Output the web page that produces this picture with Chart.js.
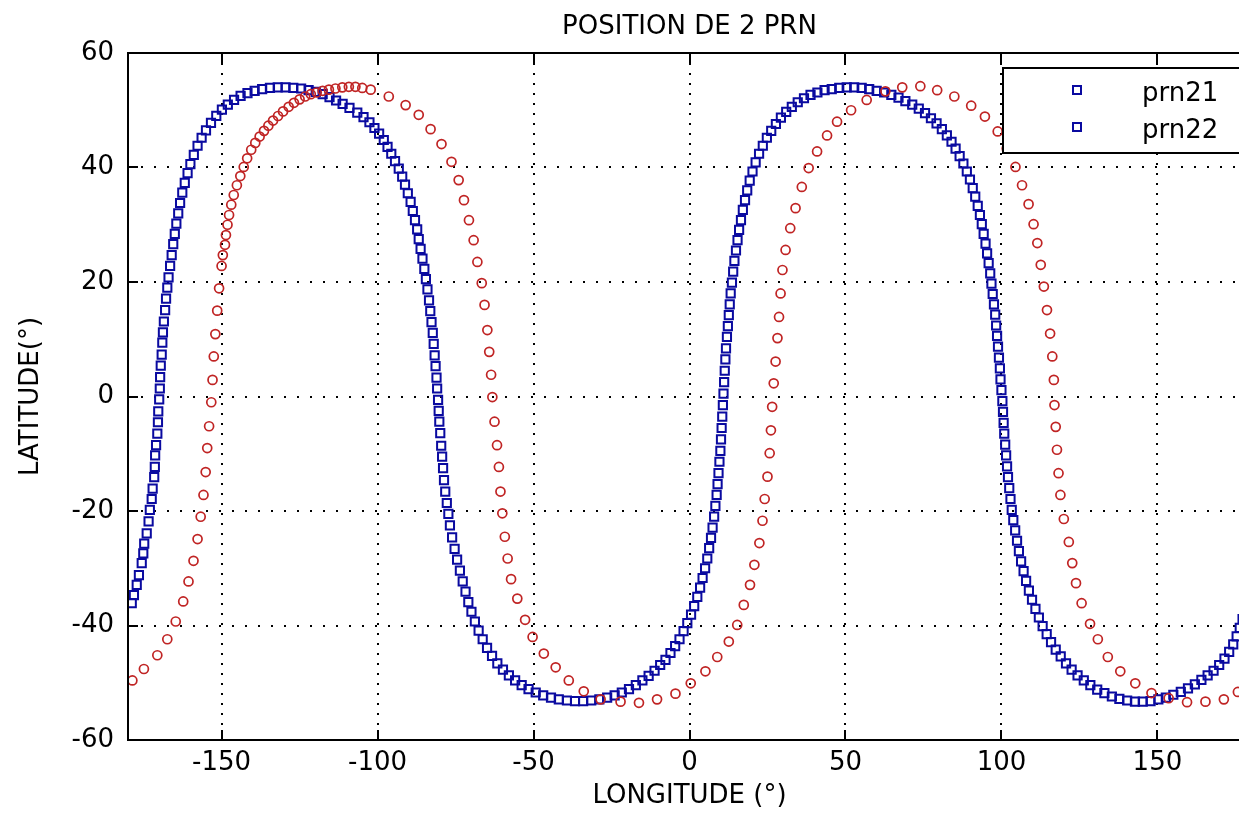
<!DOCTYPE html>
<html lang="fr">

<head>
    <meta charset="UTF-8">
    <title>Position de 2 PRN</title>
    <script src="https://cdn.jsdelivr.net/npm/chart.js"></script>
    <style>
        html,
        body {
            margin: 0;
            padding: 0;
            background: #fff;
            overflow: hidden;
        }
    </style>
</head>

<body>
    <canvas id="prnChart" width="1300" height="813"></canvas>

    <script>
        // [longitude, latitude]
        const prn21 = [
            [-178.8, -36.1], [-178.1, -34.7], [-177.2, -32.9], [-176.5, -31.2], [-175.6, -29.1], [-175.1, -27.4], [-174.8, -25.7], [-174.0, -23.9], [-173.4, -21.8], [-173.0, -19.8],
            [-172.4, -17.9], [-172.1, -16.1], [-171.6, -14.1], [-171.4, -12.3], [-171.3, -10.3], [-171.0, -8.5], [-170.6, -6.5], [-170.4, -4.5], [-170.3, -2.6], [-170.0, -0.5],
            [-169.8, 1.4], [-169.7, 3.4], [-169.5, 5.4], [-169.2, 7.3], [-169.0, 9.4], [-168.8, 11.2], [-168.5, 13.1], [-168.1, 15.1], [-167.8, 17.1], [-167.4, 19.0],
            [-167.0, 20.8], [-166.5, 22.8], [-166.0, 24.7], [-165.5, 26.6], [-165.0, 28.4], [-164.5, 30.2], [-163.9, 32.0], [-163.3, 33.8], [-162.6, 35.6], [-161.8, 37.3],
            [-160.9, 39.0], [-160.0, 40.6], [-158.9, 42.2], [-157.7, 43.8], [-156.4, 45.2], [-155.0, 46.5], [-153.4, 47.8], [-151.7, 49.0], [-149.9, 50.1], [-148.0, 51.0],
            [-146.0, 51.8], [-143.9, 52.5], [-141.7, 53.0], [-139.4, 53.4], [-137.0, 53.7], [-134.5, 53.9], [-132.0, 54.0], [-129.5, 54.0], [-127.0, 53.9], [-124.5, 53.8],
            [-122.1, 53.5], [-119.8, 53.2], [-117.6, 52.8], [-115.4, 52.3], [-113.3, 51.7], [-111.2, 51.1], [-109.0, 50.4], [-106.5, 49.6], [-104.5, 48.8], [-102.6, 47.9],
            [-101.0, 46.9], [-99.5, 45.9], [-98.0, 44.8], [-96.8, 43.6], [-95.6, 42.4], [-94.4, 41.1], [-93.2, 39.8], [-92.1, 38.4], [-91.2, 37.0], [-90.3, 35.5],
            [-89.4, 34.0], [-88.7, 32.4], [-88.0, 30.8], [-87.3, 29.2], [-86.8, 27.5], [-86.2, 25.8], [-85.6, 24.1], [-85.0, 22.3], [-84.5, 20.5], [-84.0, 18.7],
            [-83.5, 16.8], [-83.1, 14.9], [-82.7, 13.0], [-82.3, 11.1], [-82.0, 9.2], [-81.7, 7.2], [-81.4, 5.3], [-81.1, 3.3], [-80.9, 1.4], [-80.6, -0.6],
            [-80.4, -2.5], [-80.2, -4.4], [-79.9, -6.4], [-79.6, -8.6], [-79.3, -10.5], [-79.0, -12.5], [-78.7, -14.6], [-78.3, -16.6], [-77.8, -18.6], [-77.3, -20.5],
            [-76.8, -22.5], [-76.1, -24.6], [-75.3, -26.6], [-74.5, -28.5], [-73.6, -30.4], [-72.7, -32.3], [-71.8, -34.1], [-70.9, -35.9], [-69.9, -37.6], [-68.8, -39.3],
            [-67.6, -40.9], [-66.3, -42.4], [-64.9, -43.9], [-63.3, -45.3], [-61.6, -46.6], [-59.8, -47.7], [-57.9, -48.7], [-55.9, -49.6], [-53.8, -50.4], [-51.6, -51.1],
            [-49.3, -51.7], [-46.9, -52.2], [-44.4, -52.6], [-41.9, -52.9], [-39.3, -53.1], [-36.7, -53.2], [-34.1, -53.2], [-31.5, -53.1], [-28.9, -52.9], [-26.4, -52.6],
            [-24.0, -52.2], [-21.7, -51.7], [-19.4, -51.1], [-17.2, -50.4], [-15.1, -49.6], [-13.1, -48.8], [-11.2, -47.9], [-9.4, -46.9], [-7.7, -46.0], [-6.1, -44.8],
            [-4.6, -43.6], [-3.2, -42.4], [-1.9, -41.0], [-0.7, -39.6], [0.5, -38.1], [1.5, -36.6], [2.5, -35.0], [3.4, -33.4], [4.2, -31.7], [5.0, -30.0],
            [5.7, -28.3], [6.3, -26.5], [6.9, -24.7], [7.4, -22.9], [7.9, -21.0], [8.3, -19.1], [8.7, -17.2], [9.0, -15.3], [9.3, -13.4], [9.6, -11.4],
            [9.9, -9.5], [10.1, -7.5], [10.3, -5.5], [10.5, -3.5], [10.7, -1.5], [10.9, 0.5], [11.1, 2.5], [11.3, 4.5], [11.5, 6.5], [11.7, 8.4],
            [12.0, 10.4], [12.3, 12.3], [12.6, 14.2], [12.9, 16.1], [13.2, 18.0], [13.6, 19.9], [14.0, 21.8], [14.4, 23.7], [14.9, 25.5], [15.4, 27.3],
            [15.9, 29.1], [16.5, 30.8], [17.1, 32.6], [17.8, 34.3], [18.5, 36.0], [19.3, 37.7], [20.2, 39.3], [21.2, 40.9], [22.3, 42.4], [23.5, 43.8],
            [24.8, 45.2], [26.2, 46.4], [27.7, 47.6], [29.3, 48.7], [31.0, 49.7], [32.8, 50.6], [34.7, 51.4], [36.7, 52.1], [38.8, 52.7], [41.0, 53.1],
            [43.3, 53.5], [45.6, 53.7], [48.0, 53.9], [50.4, 54.0], [52.8, 54.0], [55.2, 53.9], [57.6, 53.7], [60.0, 53.4], [62.4, 53.1], [64.7, 52.7],
            [67.0, 52.2], [69.2, 51.6], [71.4, 51.0], [73.5, 50.3], [75.5, 49.5], [77.4, 48.6], [79.2, 47.7], [80.9, 46.7], [82.5, 45.6], [84.0, 44.5],
            [85.3, 43.3], [86.6, 42.0], [87.8, 40.7], [88.9, 39.3], [89.9, 37.9], [90.8, 36.4], [91.6, 34.9], [92.4, 33.3], [93.1, 31.7], [93.7, 30.1],
            [94.3, 28.4], [94.9, 26.7], [95.4, 25.0], [95.9, 23.3], [96.4, 21.5], [96.8, 19.7], [97.2, 17.9], [97.6, 16.1], [98.0, 14.3], [98.3, 12.4],
            [98.6, 10.6], [98.9, 8.7], [99.2, 6.8], [99.5, 4.9], [99.7, 3.0], [100.0, 1.1], [100.3, -0.8], [100.5, -2.7], [100.7, -4.6], [100.9, -6.5],
            [101.2, -8.4], [101.5, -10.3], [101.8, -12.2], [102.1, -14.1], [102.5, -16.0], [102.9, -17.9], [103.3, -19.8], [103.8, -21.6], [104.4, -23.4], [105.0, -25.2],
            [105.6, -27.0], [106.3, -28.8], [107.1, -30.5], [107.9, -32.2], [108.8, -33.9], [109.8, -35.5], [110.9, -37.1], [112.0, -38.6], [113.2, -40.1], [114.5, -41.5],
            [115.9, -42.9], [117.4, -44.2], [119.0, -45.4], [120.7, -46.6], [122.5, -47.7], [124.4, -48.7], [126.4, -49.6], [128.5, -50.4], [130.7, -51.2], [133.0, -51.8],
            [135.4, -52.4], [137.8, -52.8], [140.3, -53.1], [142.8, -53.3], [145.3, -53.3], [147.8, -53.2], [150.3, -52.9], [152.7, -52.6], [155.1, -52.1], [157.5, -51.6],
            [159.8, -51.0], [162.0, -50.3], [164.1, -49.5], [166.1, -48.7], [168.0, -47.9], [169.8, -46.9], [171.5, -45.8], [173.0, -44.6], [174.3, -43.3], [175.4, -41.9],
            [176.4, -40.4], [177.3, -38.9], [178.1, -37.3], [178.9, -35.7], [179.6, -34.0]
        ];

        const prn22 = [
            [-178.6, -49.6], [-174.9, -47.6], [-170.6, -45.2], [-167.4, -42.4], [-164.7, -39.3], [-162.3, -35.8], [-160.6, -32.3], [-159.0, -28.7], [-157.7, -24.9], [-156.7, -21.0],
            [-155.8, -17.2], [-155.1, -13.2], [-154.6, -9.0], [-154.0, -5.2], [-153.3, -1.0], [-152.9, 2.9], [-152.5, 7.0], [-152.0, 10.9], [-151.4, 15.0], [-150.8, 18.9],
            [-150.0, 22.8], [-149.6, 24.7], [-148.9, 26.5], [-148.6, 28.2], [-148.1, 30.0], [-147.6, 31.7], [-146.9, 33.5], [-146.1, 35.2], [-145.1, 36.9], [-144.0, 38.5],
            [-142.9, 40.1], [-141.8, 41.6], [-140.5, 43.1], [-139.2, 44.3], [-137.8, 45.4], [-136.4, 46.4], [-135.0, 47.3], [-133.5, 48.2], [-131.9, 49.0], [-130.3, 49.8],
            [-128.5, 50.6], [-126.8, 51.3], [-125.0, 51.9], [-123.2, 52.4], [-121.4, 52.8], [-119.5, 53.1], [-117.6, 53.4], [-115.6, 53.6], [-113.5, 53.8], [-111.3, 54.0],
            [-109.2, 54.1], [-107.1, 54.1], [-104.9, 53.9], [-102.2, 53.6], [-96.4, 52.4], [-91.0, 50.9], [-86.8, 49.2], [-83.0, 46.7], [-79.5, 44.1], [-76.3, 41.0],
            [-74.0, 37.8], [-72.3, 34.3], [-70.7, 30.8], [-69.2, 27.3], [-68.0, 23.5], [-66.6, 19.8], [-65.7, 16.0], [-64.8, 11.6], [-64.2, 7.8], [-63.6, 3.8],
            [-63.2, -0.1], [-62.5, -4.4], [-61.7, -8.5], [-61.1, -12.3], [-60.6, -16.6], [-60.0, -20.4], [-59.2, -24.5], [-58.3, -28.3], [-57.2, -31.9], [-55.2, -35.3],
            [-52.7, -39.0], [-50.3, -42.0], [-46.7, -44.9], [-42.9, -47.3], [-38.7, -49.6], [-33.9, -51.5], [-28.5, -52.9], [-22.1, -53.3], [-16.2, -53.5], [-10.4, -52.9],
            [-4.5, -51.9], [0.4, -50.1], [5.1, -48.0], [8.9, -45.5], [12.6, -42.8], [15.3, -39.9], [17.4, -36.4], [19.4, -32.9], [20.8, -29.4], [22.4, -25.6],
            [23.4, -21.7], [24.1, -17.9], [25.0, -14.0], [25.7, -9.9], [26.1, -5.9], [26.5, -1.8], [27.0, 2.3], [27.6, 6.1], [28.2, 10.2], [28.7, 13.9],
            [29.2, 18.0], [29.8, 22.1], [30.8, 25.6], [32.3, 29.4], [34.0, 32.9], [36.0, 36.6], [38.2, 39.9], [40.9, 42.8], [44.1, 45.6], [47.3, 48.0],
            [51.8, 50.0], [56.8, 51.8], [62.8, 53.3], [68.2, 54.0], [74.0, 54.2], [79.4, 53.5], [84.9, 52.4], [90.3, 50.8], [94.7, 48.9], [98.8, 46.3],
            [101.7, 43.3], [104.5, 40.1], [106.6, 36.9], [108.7, 33.6], [110.3, 30.1], [111.5, 26.8], [112.6, 23.0], [113.6, 19.2], [114.6, 15.1], [115.6, 11.0],
            [116.3, 7.0], [116.8, 2.9], [117.0, -1.5], [117.4, -5.3], [117.8, -9.3], [118.3, -13.4], [118.9, -17.2], [120.0, -21.4], [121.6, -25.4], [122.7, -29.1],
            [123.9, -32.6], [125.7, -36.1], [128.4, -39.7], [130.9, -42.4], [134.1, -45.5], [138.1, -48.0], [142.9, -50.1], [148.1, -51.8], [153.6, -52.7], [159.5, -53.4],
            [165.4, -53.3], [171.3, -52.9], [175.8, -51.6]
        ];

        const xTicks = [-150, -100, -50, 0, 50, 100, 150];
        const yTicks = [-60, -40, -20, 0, 20, 40, 60];
        const titre = 'POSITION DE 2 PRN';

        const police = { family: 'DejaVu Sans', size: 26, weight: 'normal' };
        const toPoints = list => list.map(p => ({ x: p[0], y: p[1] }));

        // titre centré sur les axes, cadre noir + graduations vers l'intérieur
        const cadre = {
            id: 'cadre',
            afterDatasetsDraw(chart) {
                const { ctx, chartArea: a, scales } = chart;
                ctx.save();
                ctx.fillStyle = '#000';
                ctx.font = '26px "DejaVu Sans"';
                ctx.textAlign = 'center';
                ctx.textBaseline = 'middle';
                ctx.fillText(titre, (a.left + a.right) / 2, a.top - 26);

                ctx.strokeStyle = '#000';
                ctx.lineWidth = 2;
                ctx.strokeRect(a.left, a.top, a.right - a.left, a.bottom - a.top);
                ctx.beginPath();
                xTicks.forEach(v => {
                    const px = Math.round(scales.x.getPixelForValue(v));
                    ctx.moveTo(px, a.bottom);
                    ctx.lineTo(px, a.bottom - 10);
                    ctx.moveTo(px, a.top);
                    ctx.lineTo(px, a.top + 10);
                });
                yTicks.forEach(v => {
                    const py = Math.round(scales.y.getPixelForValue(v));
                    ctx.moveTo(a.left, py);
                    ctx.lineTo(a.left + 10, py);
                    ctx.moveTo(a.right, py);
                    ctx.lineTo(a.right - 10, py);
                });
                ctx.stroke();
                ctx.restore();
            }
        };

        // légende façon matlab, en haut à droite
        const legende = {
            id: 'legende',
            afterDraw(chart) {
                const { ctx, chartArea: a } = chart;
                const left = a.right - 248, top = a.top + 15;
                ctx.save();
                ctx.fillStyle = '#fff';
                ctx.fillRect(left, top, 260, 85);
                ctx.strokeStyle = '#000';
                ctx.lineWidth = 2;
                ctx.strokeRect(left, top, 260, 85);
                ctx.font = '26px "DejaVu Sans"';
                ctx.textBaseline = 'alphabetic';
                chart.data.datasets.forEach((ds, i) => {
                    const y = top + 22 + i * 37;
                    ctx.strokeStyle = chart.data.datasets[0].pointBorderColor;
                    ctx.lineWidth = 2;
                    ctx.strokeRect(left + 70, y - 4, 8, 8);
                    ctx.fillStyle = '#000';
                    ctx.fillText(ds.label, left + 139, y + 11);
                });
                ctx.restore();
            }
        };

        const ctx = document.getElementById('prnChart').getContext('2d');
        const prnChart = new Chart(ctx, {
            type: 'scatter',
            data: {
                datasets: [{
                    label: 'prn21',
                    data: toPoints(prn21),
                    pointStyle: 'rect',
                    pointRadius: 5.8,
                    pointHoverRadius: 5.8,
                    pointBorderWidth: 2,
                    pointBorderColor: '#0a0aa0',
                    pointBackgroundColor: 'rgba(0,0,0,0)',
                    order: 1
                }, {
                    label: 'prn22',
                    data: toPoints(prn22),
                    pointStyle: 'circle',
                    pointRadius: 4.5,
                    pointHoverRadius: 4.5,
                    pointBorderWidth: 1.7,
                    pointBorderColor: '#c02424',
                    pointBackgroundColor: 'rgba(0,0,0,0)',
                    order: 0
                }]
            },
            options: {
                responsive: false,
                animation: false,
                events: [],
                layout: {
                    padding: { top: 53, right: 49 }
                },
                plugins: {
                    legend: { display: false },
                    tooltip: { enabled: false },
                    title: { display: false }
                },
                scales: {
                    x: {
                        type: 'linear',
                        min: -180,
                        max: 180,
                        afterBuildTicks: s => { s.ticks = xTicks.map(v => ({ value: v })); },
                        afterFit: s => { s.height = 73; },
                        grid: { color: '#000', lineWidth: 2, drawTicks: false },
                        border: { display: false, dash: [2, 8] },
                        ticks: { color: '#000', font: police, padding: 8, maxRotation: 0 },
                        title: {
                            display: true,
                            text: 'LONGITUDE (°)',
                            color: '#000',
                            font: police,
                            padding: { top: 0, bottom: 1 }
                        }
                    },
                    y: {
                        type: 'linear',
                        min: -60,
                        max: 60,
                        afterBuildTicks: s => { s.ticks = yTicks.map(v => ({ value: v })); },
                        afterFit: s => { s.width = 128; },
                        grid: { color: '#000', lineWidth: 2, drawTicks: false },
                        border: { display: false, dash: [2, 11] },
                        ticks: { color: '#000', font: police, padding: 14 },
                        title: {
                            display: true,
                            text: 'LATITUDE(°)',
                            color: '#000',
                            font: police,
                            padding: { top: 16, bottom: 0 }
                        }
                    }
                }
            },
            plugins: [cadre, legende]
        });
    </script>

</body>

</html>
